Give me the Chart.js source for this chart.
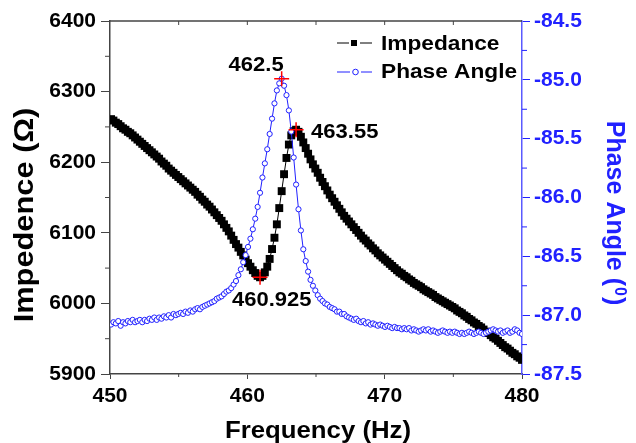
<!DOCTYPE html>
<html lang="en">
<head>
  <meta charset="UTF-8">
  <title>Impedance and Phase Angle</title>
  <style>
    body {
      margin: 0;
      background: #ffffff;
    }
    canvas {
      display: block;
    }
  </style>
</head>
<body>
  <canvas id="chart" width="636" height="443"></canvas>

  <script src="https://cdn.jsdelivr.net/npm/chart.js"></script>
  <script>
    // frequency sweep (Hz)
    const freq = [
      450.075, 450.25, 450.425, 450.6, 450.775, 450.95, 451.125, 451.3,
      451.475, 451.65, 451.825, 452, 452.175, 452.35, 452.525, 452.7,
      452.875, 453.05, 453.225, 453.4, 453.575, 453.75, 453.925, 454.1,
      454.275, 454.45, 454.625, 454.8, 454.975, 455.15, 455.325, 455.5,
      455.675, 455.85, 456.025, 456.2, 456.375, 456.55, 456.725, 456.9,
      457.075, 457.25, 457.425, 457.6, 457.775, 457.95, 458.125, 458.3,
      458.475, 458.65, 458.825, 459, 459.175, 459.35, 459.525, 459.7,
      459.875, 460.05, 460.225, 460.4, 460.575, 460.75, 460.925, 461.1,
      461.275, 461.45, 461.625, 461.8, 461.975, 462.15, 462.325, 462.5,
      462.675, 462.85, 463.025, 463.2, 463.375, 463.55, 463.725, 463.9,
      464.075, 464.25, 464.425, 464.6, 464.775, 464.95, 465.125, 465.3,
      465.475, 465.65, 465.825, 466, 466.175, 466.35, 466.525, 466.7,
      466.875, 467.05, 467.225, 467.4, 467.575, 467.75, 467.925, 468.1,
      468.275, 468.45, 468.625, 468.8, 468.975, 469.15, 469.325, 469.5,
      469.675, 469.85, 470.025, 470.2, 470.375, 470.55, 470.725, 470.9,
      471.075, 471.25, 471.425, 471.6, 471.775, 471.95, 472.125, 472.3,
      472.475, 472.65, 472.825, 473, 473.175, 473.35, 473.525, 473.7,
      473.875, 474.05, 474.225, 474.4, 474.575, 474.75, 474.925, 475.1,
      475.275, 475.45, 475.625, 475.8, 475.975, 476.15, 476.325, 476.5,
      476.675, 476.85, 477.025, 477.2, 477.375, 477.55, 477.725, 477.9,
      478.075, 478.25, 478.425, 478.6, 478.775, 478.95, 479.125, 479.3,
      479.475, 479.65, 479.825, 480
    ];

    // impedance (ohm)
    const impedance = [
      6261, 6259, 6256, 6254, 6251, 6248, 6246, 6243,
      6241, 6238, 6235, 6232, 6229, 6226, 6223, 6220,
      6217, 6214, 6211, 6208, 6205, 6201, 6198, 6195,
      6191, 6188, 6185, 6182, 6179, 6176, 6173, 6170,
      6167, 6164, 6161, 6158, 6154, 6151, 6147, 6144,
      6140, 6137, 6133, 6129, 6125, 6121, 6117, 6112,
      6107, 6102, 6096, 6090, 6084, 6079, 6073, 6068,
      6062, 6057, 6052, 6047, 6043, 6039, 6037, 6039,
      6044, 6052, 6063, 6077, 6093, 6112, 6135, 6159,
      6183, 6206, 6225, 6238, 6244, 6246, 6243, 6236,
      6228, 6220, 6212, 6204, 6197, 6191, 6185, 6178,
      6172, 6166, 6160, 6154, 6149, 6144, 6139, 6134,
      6129, 6124, 6120, 6116, 6112, 6108, 6104, 6100,
      6096, 6092, 6089, 6085, 6082, 6078, 6075, 6071,
      6068, 6065, 6062, 6059, 6056, 6053, 6050, 6047,
      6044, 6042, 6039, 6037, 6034, 6032, 6029, 6027,
      6025, 6023, 6020, 6018, 6016, 6014, 6012, 6009,
      6007, 6005, 6003, 6001, 5999, 5997, 5995, 5993,
      5990, 5988, 5986, 5983, 5981, 5978, 5976, 5973,
      5971, 5968, 5966, 5963, 5960, 5958, 5955, 5952,
      5950, 5947, 5944, 5941, 5938, 5936, 5933, 5930,
      5928, 5925, 5923, 5920
    ];

    // phase angle (degrees)
    const phase = [
      -87.08, -87.06, -87.07, -87.05, -87.09, -87.06, -87.07, -87.05,
      -87.06, -87.04, -87.06, -87.05, -87.04, -87.06, -87.04, -87.05,
      -87.03, -87.04, -87.02, -87.04, -87.02, -87.03, -87.01, -87.02,
      -87.00, -87.02, -86.99, -87.00, -86.99, -86.98, -86.99, -86.97,
      -86.98, -86.96, -86.97, -86.95, -86.94, -86.95, -86.93, -86.92,
      -86.91, -86.90, -86.89, -86.88, -86.86, -86.85, -86.84, -86.82,
      -86.80, -86.79, -86.77, -86.74, -86.71, -86.66, -86.61, -86.55,
      -86.49, -86.42, -86.35, -86.27, -86.18, -86.08, -85.96, -85.83,
      -85.71, -85.59, -85.46, -85.33, -85.20, -85.09, -85.03, -84.99,
      -85.05, -85.13, -85.26, -85.44, -85.66, -85.89, -86.10, -86.28,
      -86.44, -86.54, -86.63, -86.70, -86.75, -86.79, -86.83, -86.86,
      -86.88, -86.90, -86.91, -86.93, -86.94, -86.95, -86.97, -86.97,
      -86.99, -86.99, -87.01, -87.02, -87.03, -87.04, -87.03, -87.05,
      -87.06, -87.05, -87.07, -87.06, -87.08, -87.07, -87.08, -87.09,
      -87.08, -87.09, -87.10, -87.09, -87.10, -87.11, -87.10, -87.11,
      -87.11, -87.12, -87.11, -87.12, -87.11, -87.13, -87.12, -87.13,
      -87.14, -87.13, -87.12, -87.13, -87.12, -87.14, -87.13, -87.14,
      -87.15, -87.14, -87.13, -87.14, -87.15, -87.14, -87.15, -87.14,
      -87.15, -87.16, -87.15, -87.16, -87.15, -87.14, -87.15, -87.16,
      -87.15, -87.14, -87.15, -87.16, -87.15, -87.14, -87.13, -87.12,
      -87.13, -87.14, -87.13, -87.15, -87.14, -87.13, -87.15, -87.14,
      -87.12, -87.13, -87.15, -87.16
    ];

    // marked points (red crosses)
    const impMarkFreq = [460.925, 463.55];
    const impMarkVal = [6037, 6246];
    const impMarkText = ["460.925", "463.55"];
    const phaseMarkFreq = [462.5];
    const phaseMarkVal = [-84.99];
    const phaseMarkText = ["462.5"];

    // axes
    const xRange = [450, 480];
    const impRange = [5900, 6400];
    const phaseRange = [-87.5, -84.5];

    const FONT = "'Liberation Sans', Arial, sans-serif";
    const BLUE = "#2121ff";
    const AXIS = "#444444";

    const toPoints = (xs, ys) => xs.map((x, i) => ({ x: x, y: ys[i] }));

    // draws text stretched horizontally
    function wideText(ctx, txt, x, y, sx, align) {
      ctx.save();
      ctx.translate(x, y);
      ctx.scale(sx, 1);
      ctx.textAlign = align || "left";
      ctx.fillText(txt, 0, 0);
      ctx.restore();
    }

    const decor = {
      id: "decor",
      afterDatasetsDraw(chart) {
        const ctx = chart.ctx;
        const ca = chart.chartArea;
        const sx = chart.scales.x, sy = chart.scales.y, sy1 = chart.scales.y1;
        ctx.save();

        // top frame with small inward ticks
        ctx.strokeStyle = AXIS;
        ctx.lineWidth = 1.5;
        ctx.beginPath();
        ctx.moveTo(ca.left, ca.top);
        ctx.lineTo(ca.right, ca.top);
        ctx.stroke();
        ctx.lineWidth = 1;
        for (let v = xRange[0] + 5; v < xRange[1]; v += 5) {
          const px = sx.getPixelForValue(v);
          ctx.beginPath();
          ctx.moveTo(px, ca.top);
          ctx.lineTo(px, ca.top + 4);
          ctx.stroke();
        }
        // minor ticks
        for (let v = xRange[0] + 5; v < xRange[1]; v += 10) {
          const px = sx.getPixelForValue(v);
          ctx.beginPath();
          ctx.moveTo(px, ca.bottom);
          ctx.lineTo(px, ca.bottom + 3);
          ctx.stroke();
        }
        for (let v = impRange[0] + 50; v < impRange[1]; v += 100) {
          const py = sy.getPixelForValue(v);
          ctx.beginPath();
          ctx.moveTo(ca.left, py);
          ctx.lineTo(ca.left - 5, py);
          ctx.stroke();
        }
        ctx.strokeStyle = BLUE;
        for (let v = phaseRange[0] + 0.25; v < phaseRange[1]; v += 0.5) {
          const py = sy1.getPixelForValue(v);
          ctx.beginPath();
          ctx.moveTo(ca.right, py);
          ctx.lineTo(ca.right + 5, py);
          ctx.stroke();
        }

        // labels next to the crosses
        ctx.fillStyle = "#000";
        ctx.font = "bold 20px " + FONT;
        const m0 = chart.getDatasetMeta(0).data;
        const m1 = chart.getDatasetMeta(1).data;
        wideText(ctx, impMarkText[0], m0[0].x - 28, m0[0].y + 29, 1.1, "left");
        wideText(ctx, impMarkText[1], m0[1].x + 15, m0[1].y + 8, 1.1, "left");
        wideText(ctx, phaseMarkText[0], m1[0].x + 2, m1[0].y - 8, 1.1, "right");

        // legend
        ctx.lineWidth = 1;
        ctx.strokeStyle = "#000";
        ctx.beginPath();
        ctx.moveTo(337, 43); ctx.lineTo(349, 43);
        ctx.moveTo(360, 43); ctx.lineTo(372, 43);
        ctx.stroke();
        ctx.fillRect(351, 40, 6, 6);
        ctx.strokeStyle = BLUE;
        ctx.beginPath();
        ctx.moveTo(337, 72); ctx.lineTo(350, 72);
        ctx.moveTo(361, 72); ctx.lineTo(372, 72);
        ctx.stroke();
        ctx.fillStyle = "#fff";
        ctx.beginPath();
        ctx.arc(355.5, 72, 2.8, 0, Math.PI * 2);
        ctx.fill();
        ctx.stroke();
        ctx.fillStyle = "#000";
        ctx.font = "bold 21px " + FONT;
        wideText(ctx, "Impedance", 381, 50, 1.08, "left");
        wideText(ctx, "Phase Angle", 381, 78, 1.08, "left");

        // axis titles
        ctx.font = "bold 23px " + FONT;
        wideText(ctx, "Frequency (Hz)", (ca.left + ca.right) / 2 + 2, 438, 1.12, "center");

        ctx.save();
        ctx.translate(33, 215);
        ctx.rotate(-Math.PI / 2);
        ctx.font = "bold 28px " + FONT;
        wideText(ctx, "Impedence (\u03A9)", 0, 0, 1.1, "center");
        ctx.restore();

        ctx.save();
        ctx.translate(607, 212);
        ctx.rotate(Math.PI / 2);
        ctx.fillStyle = BLUE;
        ctx.font = "bold 25px " + FONT;
        const a = "Phase Angle (", b = "0", c = ")";
        const wa = ctx.measureText(a).width, wc = ctx.measureText(c).width;
        ctx.font = "bold 16px " + FONT;
        const wb = ctx.measureText(b).width;
        let x0 = -(wa + wb + wc) / 2;
        ctx.textAlign = "left";
        ctx.font = "bold 25px " + FONT;
        ctx.fillText(a, x0, 0);
        ctx.font = "bold 16px " + FONT;
        ctx.fillText(b, x0 + wa + 1, -8);
        ctx.font = "bold 25px " + FONT;
        ctx.fillText(c, x0 + wa + wb + 2, 0);
        ctx.restore();

        ctx.restore();
      }
    };

    const ctx = document.getElementById("chart").getContext("2d");

    new Chart(ctx, {
      type: "line",
      data: {
        datasets: [
          {
            label: "imp marks",
            data: toPoints(impMarkFreq, impMarkVal),
            yAxisID: "y",
            showLine: false,
            pointStyle: "cross",
            pointRadius: 7.5,
            pointBorderWidth: 1.5,
            pointBorderColor: "#ff0000",
            order: 0,
          },
          {
            label: "phase marks",
            data: toPoints(phaseMarkFreq, phaseMarkVal),
            yAxisID: "y1",
            showLine: false,
            pointStyle: "cross",
            pointRadius: 7.5,
            pointBorderWidth: 1.5,
            pointBorderColor: "#ff0000",
            order: 0,
          },
          {
            label: "Phase Angle",
            data: toPoints(freq, phase),
            yAxisID: "y1",
            borderColor: BLUE,
            borderWidth: 1,
            tension: 0,
            pointStyle: "circle",
            pointRadius: 2.6,
            pointBorderWidth: 1,
            pointBorderColor: BLUE,
            pointBackgroundColor: "#ffffff",
            order: 1,
          },
          {
            label: "Impedance",
            data: toPoints(freq, impedance),
            yAxisID: "y",
            borderColor: "#000000",
            borderWidth: 1,
            tension: 0,
            pointStyle: "rect",
            pointRadius: 5.6,
            pointBorderWidth: 0,
            pointBackgroundColor: "#000000",
            order: 2,
          },
        ],
      },
      options: {
        responsive: false,
        animation: false,
        layout: { padding: { top: 21, left: 0, right: 0, bottom: 0 } },
        plugins: {
          legend: { display: false },
          tooltip: { enabled: false },
        },
        scales: {
          x: {
            type: "linear",
            min: xRange[0],
            max: xRange[1],
            afterFit: (s) => { s.height = 69; },
            ticks: {
              stepSize: 10,
              color: "#000",
              padding: 5,
              font: { family: FONT, size: 21, weight: "bold" },
            },
            grid: { drawOnChartArea: false, color: AXIS, tickLength: 5 },
            border: { color: AXIS, width: 1.5 },
          },
          y: {
            position: "left",
            min: impRange[0],
            max: impRange[1],
            afterFit: (s) => { s.width = 110; },
            ticks: {
              stepSize: 100,
              color: "#000",
              padding: 5,
              callback: (v) => String(v),
              font: { family: FONT, size: 21, weight: "bold" },
            },
            grid: { drawOnChartArea: false, color: AXIS, tickLength: 9 },
            border: { color: AXIS, width: 1.5 },
          },
          y1: {
            position: "right",
            min: phaseRange[0],
            max: phaseRange[1],
            afterFit: (s) => { s.width = 114; },
            ticks: {
              stepSize: 0.5,
              color: BLUE,
              padding: 4,
              callback: (v) => v.toFixed(1),
              font: { family: FONT, size: 21, weight: "bold" },
            },
            grid: { drawOnChartArea: false, color: BLUE, tickLength: 8 },
            border: { color: "#5a5aff", width: 1.5 },
          },
        },
      },
      plugins: [decor],
    });
  </script>
</body>
</html>
